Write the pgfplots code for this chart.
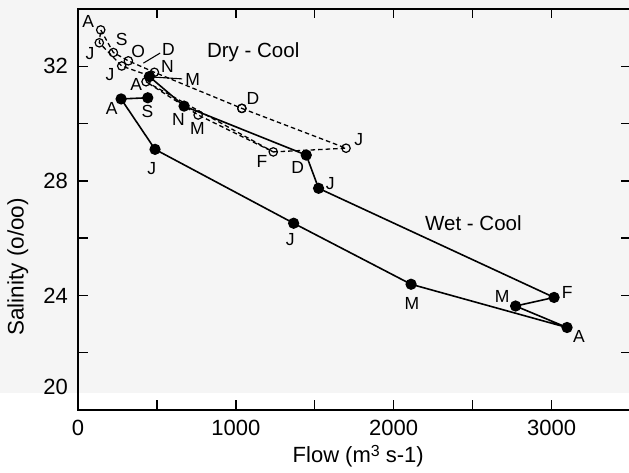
\documentclass[border=0pt]{standalone}
\usepackage{fontspec}
\setmainfont{Liberation Sans}
\usepackage{pgfplots}
\pgfplotsset{compat=1.18}
\usetikzlibrary{backgrounds,calc}
\definecolor{bg}{RGB}{245,245,245}
\newcommand\lbl{\fontsize{17.5}{17.5}\selectfont}
\newcommand\ttl{\fontsize{20.5}{20.5}\selectfont}

\begin{document}
\begin{tikzpicture}
\begin{axis}[
  scale only axis, width=552.5pt, height=401pt,
  xmin=0, xmax=3500, ymin=20, ymax=34,
  clip=false,
  xtick={0,500,...,3500}, xticklabels={0,,1000,,2000,,3000,},
  ytick={20,22,...,32}, yticklabels={\raisebox{15pt}[0pt][0pt]{20},,24,,28,,32},
  tick align=inside, major tick length=9.5pt,
  tick style={line width=1.3pt, black},
  axis line style={line width=1.6pt},
  xticklabel style={font=\fontsize{22}{22}\selectfont, anchor=north, inner sep=0pt, yshift=-10pt},
  yticklabel style={font=\fontsize{22}{22}\selectfont, anchor=east, inner sep=0pt, xshift=-10pt},
  xlabel={Flow (m\raisebox{6.5pt}{\fontsize{16}{16}\selectfont 3} s-1)},
  ylabel={Salinity (o/oo)},
  xlabel style={font=\fontsize{22}{22}\selectfont, at={(axis description cs:0.5,0)}, anchor=base, yshift=-53pt, xshift=4pt, inner sep=0pt},
  ylabel style={font=\fontsize{22.5}{22.5}\selectfont, at={(axis description cs:-0.109,0.357)}, anchor=center, inner sep=0pt},
]
% Dry - Cool (open circles, dashed)
\addplot[black, line width=1.3pt, dash pattern=on 4.5pt off 3pt, no markers]
  coordinates {(431,31.46) (1237,29.01)};
\addplot[black, line width=1.3pt, dash pattern=on 4.5pt off 3pt,
  mark=o, mark size=4.2pt, mark options={solid, fill=bg, line width=1.2pt}]
  coordinates {
  (1038,30.53) (1698,29.14) (1237,29.01) (761,30.30) (431,31.46) (457,31.66)
  (277,32.01) (135,32.82) (144,33.27) (224,32.48) (319,32.19) (484,31.79) (1038,30.53)};
% Wet - Cool (filled circles, solid)
\addplot[black, line width=1.6pt, mark=*, mark size=4.8pt, mark options={solid, fill=black}]
  coordinates {
  (452,31.64) (672,30.61) (1446,28.90) (1524,27.74) (3016,23.93) (2772,23.63)
  (3098,22.88) (2110,24.39) (1366,26.52) (488,29.10) (273,30.86) (442,30.90)};
% leader lines
\addplot[black, line width=1.1pt, no markers] coordinates {(414,32.11) (520,32.46)};
\addplot[black, line width=1.1pt, no markers] coordinates {(457,31.63) (660,31.56)};
% labels
\node[font=\ttl] at (axis cs:1110,32.50) {Dry - Cool};
\node[font=\ttl] at (axis cs:2505,26.53) {Wet - Cool};
\node[font=\lbl, inner sep=0pt] at (axis cs:65,33.56) {A};
\node[font=\lbl, inner sep=0pt] at (axis cs:277,32.92) {S};
\node[font=\lbl, inner sep=0pt] at (axis cs:76,32.43) {J};
\node[font=\lbl, inner sep=0pt] at (axis cs:382,32.51) {O};
\node[font=\lbl, inner sep=0pt] at (axis cs:573,32.57) {D};
\node[font=\lbl, inner sep=0pt] at (axis cs:566,32.01) {N};
\node[font=\lbl, inner sep=0pt] at (axis cs:727,31.55) {M};
\node[font=\lbl, inner sep=0pt] at (axis cs:203,31.70) {J};
\node[font=\lbl, inner sep=0pt] at (axis cs:368,31.37) {A};
\node[font=\lbl, inner sep=0pt] at (axis cs:214,30.53) {A};
\node[font=\lbl, inner sep=0pt] at (axis cs:440,30.42) {S};
\node[font=\lbl, inner sep=0pt] at (axis cs:636,30.13) {N};
\node[font=\lbl, inner sep=0pt] at (axis cs:757,29.84) {M};
\node[font=\lbl, inner sep=0pt] at (axis cs:1108,30.86) {D};
\node[font=\lbl, inner sep=0pt] at (axis cs:467,28.44) {J};
\node[font=\lbl, inner sep=0pt] at (axis cs:1165,28.67) {F};
\node[font=\lbl, inner sep=0pt] at (axis cs:1391,28.47) {D};
\node[font=\lbl, inner sep=0pt] at (axis cs:1778,29.43) {J};
\node[font=\lbl, inner sep=0pt] at (axis cs:1598,27.92) {J};
\node[font=\lbl, inner sep=0pt] at (axis cs:1345,25.94) {J};
\node[font=\lbl, inner sep=0pt] at (axis cs:2116,23.73) {M};
\node[font=\lbl, inner sep=0pt] at (axis cs:2687,23.96) {M};
\node[font=\lbl, inner sep=0pt] at (axis cs:3099,24.10) {F};
\node[font=\lbl, inner sep=0pt] at (axis cs:3173,22.56) {A};
\end{axis}
\begin{scope}[on background layer]
\fill[bg] ($(current axis.north west)+(-80pt,12pt)$) rectangle ($(current axis.south east)+(2pt,17pt)$);
\end{scope}
\pgfresetboundingbox
\path[use as bounding box] ($(current axis.south west)+(-78pt,-63pt)$) rectangle ($(current axis.north east)+(-1.5pt,9pt)$);
\end{tikzpicture}
\end{document}
